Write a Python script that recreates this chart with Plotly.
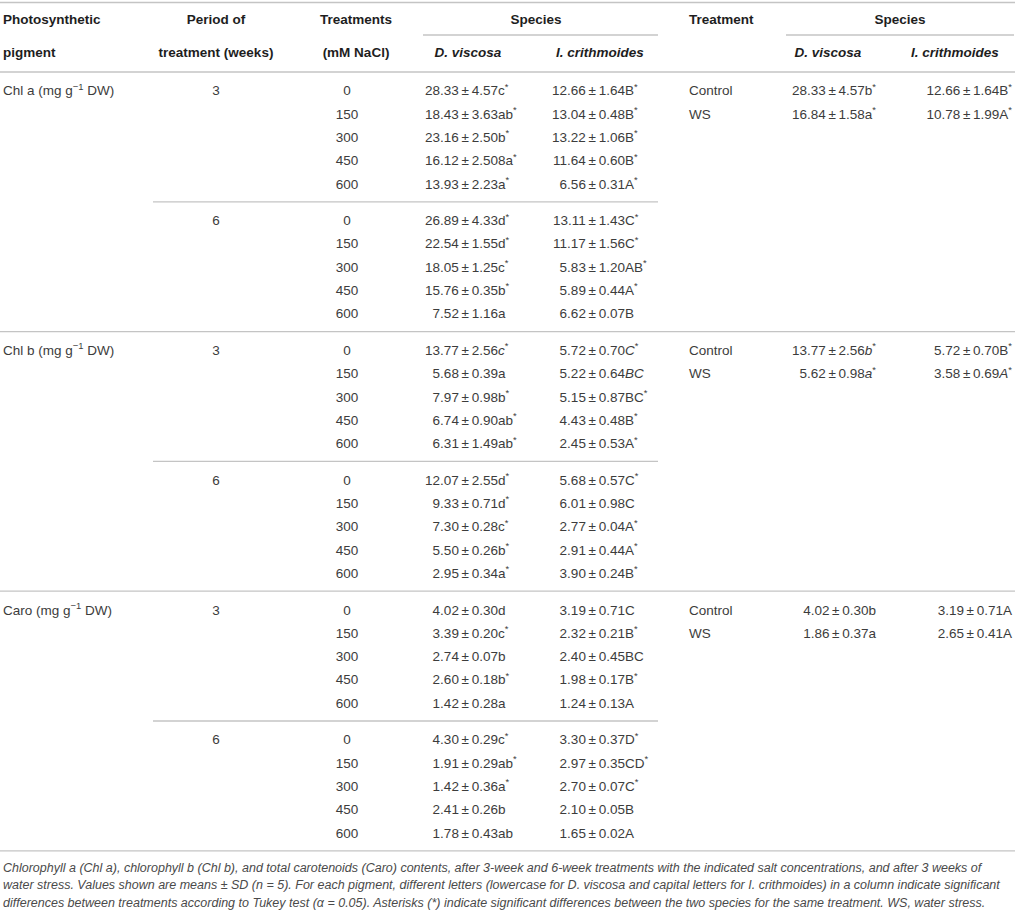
import plotly.graph_objects as go

# ---------------- data ----------------
pigments = ["Chl a (mg g<sup>−1</sup> DW)", "Chl b (mg g<sup>−1</sup> DW)", "Caro (mg g<sup>−1</sup> DW)"]
periods = ["3", "6"]
salt_levels = ["0", "150", "300", "450", "600"]
ws_treatments = ["Control", "WS"]

dv_chla_3 = ["28.33 ± 4.57c*", "18.43 ± 3.63ab*", "23.16 ± 2.50b*", "16.12 ± 2.508a*", "13.93 ± 2.23a*"]
ic_chla_3 = ["12.66 ± 1.64B*", "13.04 ± 0.48B*", "13.22 ± 1.06B*", "11.64 ± 0.60B*", "6.56 ± 0.31A*"]
dv_chla_6 = ["26.89 ± 4.33d*", "22.54 ± 1.55d*", "18.05 ± 1.25c*", "15.76 ± 0.35b*", "7.52 ± 1.16a"]
ic_chla_6 = ["13.11 ± 1.43C*", "11.17 ± 1.56C*", "5.83 ± 1.20AB*", "5.89 ± 0.44A*", "6.62 ± 0.07B"]

dv_chlb_3 = ["13.77 ± 2.56<i>c</i>*", "5.68 ± 0.39a", "7.97 ± 0.98b*", "6.74 ± 0.90ab*", "6.31 ± 1.49ab*"]
ic_chlb_3 = ["5.72 ± 0.70<i>C</i>*", "5.22 ± 0.64<i>BC</i>", "5.15 ± 0.87BC*", "4.43 ± 0.48B*", "2.45 ± 0.53A*"]
dv_chlb_6 = ["12.07 ± 2.55d*", "9.33 ± 0.71d*", "7.30 ± 0.28c*", "5.50 ± 0.26b*", "2.95 ± 0.34a*"]
ic_chlb_6 = ["5.68 ± 0.57C*", "6.01 ± 0.98C", "2.77 ± 0.04A*", "2.91 ± 0.44A*", "3.90 ± 0.24B*"]

dv_caro_3 = ["4.02 ± 0.30d", "3.39 ± 0.20c*", "2.74 ± 0.07b", "2.60 ± 0.18b*", "1.42 ± 0.28a"]
ic_caro_3 = ["3.19 ± 0.71C", "2.32 ± 0.21B*", "2.40 ± 0.45BC", "1.98 ± 0.17B*", "1.24 ± 0.13A"]
dv_caro_6 = ["4.30 ± 0.29c*", "1.91 ± 0.29ab*", "1.42 ± 0.36a*", "2.41 ± 0.26b", "1.78 ± 0.43ab"]
ic_caro_6 = ["3.30 ± 0.37D*", "2.97 ± 0.35CD*", "2.70 ± 0.07C*", "2.10 ± 0.05B", "1.65 ± 0.02A"]

ws_dv_chla = ["28.33 ± 4.57b*", "16.84 ± 1.58a*"]
ws_ic_chla = ["12.66 ± 1.64B*", "10.78 ± 1.99A*"]
ws_dv_chlb = ["13.77 ± 2.56<i>b</i>*", "5.62 ± 0.98<i>a</i>*"]
ws_ic_chlb = ["5.72 ± 0.70B*", "3.58 ± 0.69<i>A</i>*"]
ws_dv_caro = ["4.02 ± 0.30b", "1.86 ± 0.37a"]
ws_ic_caro = ["3.19 ± 0.71A", "2.65 ± 0.41A"]

caption_lines = [
    "Chlorophyll a (Chl a), chlorophyll b (Chl b), and total carotenoids (Caro) contents, after 3-week and 6-week treatments with the indicated salt concentrations, and after 3 weeks of",
    "water stress. Values shown are means ± SD (n = 5). For each pigment, different letters (lowercase for D. viscosa and capital letters for I. crithmoides) in a column indicate significant",
    "differences between treatments according to Tukey test (α = 0.05). Asterisks (*) indicate significant differences between the two species for the same treatment. WS, water stress.",
]

# ---------------- layout constants ----------------
W, H = 1016, 912
FONT = "Liberation Sans, Arial, sans-serif"
FS = 13.5
TXT = "#3c3c3c"
HDR = "#1e1e1e"
LINE = "#c4c4c4"
TS = "\u2009"

HEADER_LINE_Y = 72
BLOCK_H = 129.8
ROW0 = 20.0
ROW_DY = 23.3

X_PIG = 3
X_PERIOD = 216
X_SALT = 347
X_DV_PM = 469     # right edge of the ± sign, D. viscosa
X_IC_PM = 596     # right edge of the ± sign, I. crithmoides
X_TRT = 689
X_DV2_R = 876
X_IC2_R = 1012

blocks = [
    (0, 0, dv_chla_3, ic_chla_3), (0, 1, dv_chla_6, ic_chla_6),
    (1, 0, dv_chlb_3, ic_chlb_3), (1, 1, dv_chlb_6, ic_chlb_6),
    (2, 0, dv_caro_3, ic_caro_3), (2, 1, dv_caro_6, ic_caro_6),
]
ws_blocks = [(ws_dv_chla, ws_ic_chla), (ws_dv_chlb, ws_ic_chlb), (ws_dv_caro, ws_ic_caro)]


def sup(s):
    return s.replace("*", "<sup>*</sup>")


def tight(s):
    return sup(s.replace(" ± ", TS + "±" + TS))


def block_top(b):
    return HEADER_LINE_Y + BLOCK_H * b


def row_y(b, i):
    return block_top(b) + ROW0 + ROW_DY * i


fig = go.Figure()


def add_text(xs, ys, texts, pos, color=TXT, size=FS):
    fig.add_trace(go.Scatter(
        x=xs, y=ys, text=texts, mode="text", textposition=pos,
        textfont=dict(family=FONT, size=size, color=color),
        hoverinfo="skip", showlegend=False, cliponaxis=False))


pig_x, pig_y, pig_t = [], [], []
per_x, per_y, per_t = [], [], []
salt_x, salt_y, salt_t = [], [], []
left_x, left_y, left_t = [], [], []
rest_x, rest_y, rest_t = [], [], []

for b, (pi, pe, dv, ic) in enumerate(blocks):
    if pe == 0:
        pig_x.append(X_PIG); pig_y.append(row_y(b, 0)); pig_t.append(pigments[pi])
    per_x.append(X_PERIOD); per_y.append(row_y(b, 0)); per_t.append(periods[pe])
    for i, s in enumerate(salt_levels):
        y = row_y(b, i)
        salt_x.append(X_SALT); salt_y.append(y); salt_t.append(s)
        for xpm, val in ((X_DV_PM, dv[i]), (X_IC_PM, ic[i])):
            m, r = val.split(" ± ")
            left_x.append(xpm); left_y.append(y); left_t.append(m + TS + "±")
            rest_x.append(xpm); rest_y.append(y); rest_t.append(TS + sup(r))

add_text(pig_x, pig_y, pig_t, "middle right")
add_text(per_x, per_y, per_t, "middle center")
add_text(salt_x, salt_y, salt_t, "middle center")
add_text(left_x, left_y, left_t, "middle left")
add_text(rest_x, rest_y, rest_t, "middle right")

# water-stress sub-table
trt_x, trt_y, trt_t = [], [], []
dv2_x, dv2_y, dv2_t = [], [], []
ic2_x, ic2_y, ic2_t = [], [], []
for k, (dv, ic) in enumerate(ws_blocks):
    b = 2 * k
    for i, t in enumerate(ws_treatments):
        y = row_y(b, i)
        trt_x.append(X_TRT); trt_y.append(y); trt_t.append(t)
        dv2_x.append(X_DV2_R); dv2_y.append(y); dv2_t.append(tight(dv[i]))
        ic2_x.append(X_IC2_R); ic2_y.append(y); ic2_t.append(tight(ic[i]))
add_text(trt_x, trt_y, trt_t, "middle right")
add_text(dv2_x, dv2_y, dv2_t, "middle left")
add_text(ic2_x, ic2_y, ic2_t, "middle left")

# headers
Y_H1, Y_H2 = 21, 54
add_text([X_PIG, X_TRT], [Y_H1, Y_H1], ["<b>Photosynthetic</b>", "<b>Treatment</b>"], "middle right", HDR)
add_text([X_PIG], [Y_H2], ["<b>pigment</b>"], "middle right", HDR)
add_text([X_PERIOD, 356, 536, 900], [Y_H1] * 4,
         ["<b>Period of</b>", "<b>Treatments</b>", "<b>Species</b>", "<b>Species</b>"], "middle center", HDR)
add_text([X_PERIOD, 356, 468, 600, 828, 955], [Y_H2] * 6,
         ["<b>treatment (weeks)</b>", "<b>(mM NaCl)</b>", "<b><i>D. viscosa</i></b>", "<b><i>I. crithmoides</i></b>",
          "<b><i>D. viscosa</i></b>", "<b><i>I. crithmoides</i></b>"], "middle center", HDR)

# caption
add_text([3] * 3, [868.5, 886, 903.5], ["<i>%s</i>" % c for c in caption_lines], "middle right", "#4a4a4a", 12.5)

# rules
shapes = []
def hline(y, x0=0, x1=W - 1, w=1.3):
    shapes.append(dict(type="line", xref="x", yref="y", x0=x0, x1=x1, y0=y, y1=y,
                       line=dict(color=LINE, width=w)))

hline(2.5)
hline(35, 423, 658)
hline(35, 786, W - 2)
for b in range(len(blocks) + 1):
    y = block_top(b)
    if b % 2 == 1:
        hline(y, 153, 658)
    else:
        hline(y)

fig.update_layout(
    width=W, height=H, margin=dict(l=0, r=0, t=0, b=0),
    paper_bgcolor="white", plot_bgcolor="white",
    xaxis=dict(range=[0, W], visible=False, fixedrange=True),
    yaxis=dict(range=[H, 0], visible=False, fixedrange=True),
    shapes=shapes, showlegend=False,
)

fig.write_html("out.html", config={"displayModeBar": False, "staticPlot": True},
               post_script="document.body.style.margin='0';document.body.style.overflow='hidden';")
